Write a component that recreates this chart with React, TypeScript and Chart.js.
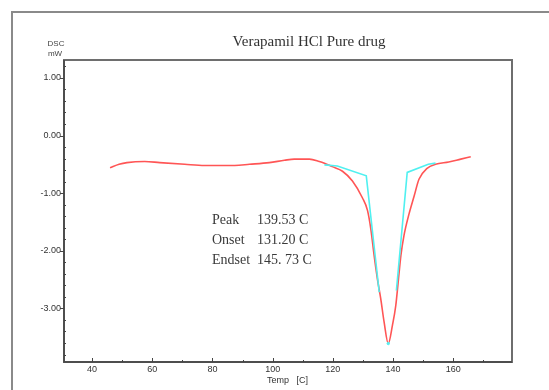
import React, { useEffect, useRef } from "react";
import { Chart, registerables } from "chart.js";

Chart.register(...registerables);

// DSC curve (red)
const tempC = [46.0, 49.0, 51.6, 57.5, 62.5, 70.8, 77.4, 87.4, 92.3, 98.9, 103.9, 107.2, 112.2, 115.5, 117.2, 119.8, 123.2, 126.5, 129.8, 131.5, 132.6, 133.7, 134.8, 135.9, 137.0, 138.4, 139.8, 140.9, 141.8, 142.6, 143.6, 145.3, 147.0, 148.6, 151.3, 154.1, 158.5, 162.5, 165.8];
const dscMw = [-0.56, -0.5, -0.47, -0.45, -0.47, -0.5, -0.52, -0.52, -0.5, -0.47, -0.43, -0.41, -0.41, -0.45, -0.48, -0.54, -0.62, -0.79, -1.08, -1.3, -1.62, -2.08, -2.49, -2.83, -3.23, -3.61, -3.29, -2.95, -2.49, -2.08, -1.74, -1.36, -1.05, -0.76, -0.57, -0.5, -0.46, -0.41, -0.37];

// Onset tangent construction (cyan)
const onsetT = [117.2, 121.5, 131.1, 135.4];
const onsetV = [-0.51, -0.53, -0.7, -2.72];
// Endset tangent construction (cyan)
const endsetT = [141.1, 144.7, 151.7, 154.1];
const endsetV = [-2.69, -0.64, -0.5, -0.48];
// Peak marker
const peakT = [138.4];
const peakV = [-3.61];

const xTicks = [40, 60, 80, 100, 120, 140, 160];
const xMinor = [50, 70, 90, 110, 130, 150, 170];
const yTicks = [-3, -2, -1, 0, 1];
const yMinorStep = 0.2;

const titleText = "Verapamil HCl Pure drug";
const yUnitTop = "DSC";
const yUnitBottom = "mW";
const xTitle = "Temp   [C]";
const annLabels = ["Peak", "Onset", "Endset"];
const annValues = ["139.53 C", "131.20 C", "145. 73 C"];

const toPts = (xs: number[], ys: number[]) => xs.map((x, i) => ({ x, y: ys[i] }));

export default function App() {
  const ref = useRef<HTMLCanvasElement | null>(null);
  useEffect(() => {
    document.body.style.margin = "0";
    const canvas = ref.current!;
    const decor = {
      id: "decor",
      afterDraw(chart: any) {
        const ctx = chart.ctx as CanvasRenderingContext2D;
        const a = chart.chartArea;
        const xs = chart.scales.x;
        const ys = chart.scales.y;
        ctx.save();
        // outer frame
        ctx.strokeStyle = "#8a8a8a";
        ctx.lineWidth = 2;
        ctx.beginPath();
        ctx.moveTo(12, 392);
        ctx.lineTo(12, 12);
        ctx.lineTo(560, 12);
        ctx.stroke();
        // plot frame
        ctx.strokeStyle = "#6e6e6e";
        ctx.lineWidth = 2;
        ctx.strokeRect(a.left, a.top, a.right - a.left, a.bottom - a.top);
        ctx.strokeStyle = "#444";
        ctx.lineWidth = 1.5;
        ctx.beginPath();
        ctx.moveTo(a.left, a.top);
        ctx.lineTo(a.left, a.bottom);
        ctx.lineTo(a.right, a.bottom);
        ctx.stroke();
        // ticks
        ctx.lineWidth = 1;
        ctx.strokeStyle = "#444";
        ctx.beginPath();
        for (const v of yTicks) {
          const py = Math.round(ys.getPixelForValue(v)) + 0.5;
          ctx.moveTo(a.left - 4, py);
          ctx.lineTo(a.left, py);
        }
        for (let v = -3.8; v <= 1.21; v += yMinorStep) {
          const r = Math.round(v * 10) / 10;
          if (Math.abs(r - Math.round(r)) < 1e-6) continue;
          const py = Math.round(ys.getPixelForValue(r)) + 0.5;
          ctx.moveTo(a.left, py);
          ctx.lineTo(a.left + 2, py);
        }
        for (const v of xTicks) {
          const px = Math.round(xs.getPixelForValue(v)) + 0.5;
          ctx.moveTo(px, a.bottom);
          ctx.lineTo(px, a.bottom - 4);
        }
        for (const v of xMinor) {
          const px = Math.round(xs.getPixelForValue(v)) + 0.5;
          ctx.moveTo(px, a.bottom);
          ctx.lineTo(px, a.bottom - 2);
        }
        ctx.stroke();
        // title
        ctx.fillStyle = "#333";
        ctx.font = "15px 'Liberation Serif'";
        ctx.textAlign = "center";
        ctx.textBaseline = "alphabetic";
        ctx.fillText(titleText, 309, 46);
        // unit labels
        ctx.font = "8px 'Liberation Sans'";
        ctx.fillStyle = "#444";
        ctx.fillText(yUnitTop, 56, 46);
        ctx.fillText(yUnitBottom, 55, 56);
        // x title
        ctx.font = "9px 'Liberation Sans'";
        ctx.fillStyle = "#333";
        ctx.textAlign = "left";
        ctx.fillText(xTitle, 267, 383);
        // annotations
        ctx.font = "14px 'Liberation Serif'";
        ctx.fillStyle = "#3a3a3a";
        annLabels.forEach((t, i) => {
          const by = 224 + i * 20;
          ctx.fillText(t, 212, by);
          ctx.fillText(annValues[i], 257, by);
        });
        ctx.restore();
      },
    };
    const chart = new Chart(canvas, {
      type: "line",
      data: {
        datasets: [
          {
            data: toPts(tempC, dscMw),
            borderColor: "rgb(255,85,85)",
            borderWidth: 1.6,
            pointRadius: 0,
            cubicInterpolationMode: "monotone",
            order: 2,
          },
          {
            data: toPts(onsetT, onsetV),
            borderColor: "rgb(80,240,240)",
            borderWidth: 1.6,
            pointRadius: 0,
            tension: 0,
            order: 1,
          },
          {
            data: toPts(endsetT, endsetV),
            borderColor: "rgb(80,240,240)",
            borderWidth: 1.6,
            pointRadius: 0,
            tension: 0,
            order: 1,
          },
          {
            data: toPts(peakT, peakV),
            borderColor: "rgb(80,240,240)",
            backgroundColor: "rgb(80,240,240)",
            pointRadius: 1.2,
            showLine: false,
            order: 0,
          },
        ],
      },
      options: {
        responsive: false,
        animation: false,
        devicePixelRatio: 1,
        layout: { padding: { left: 0, top: 60, right: 37, bottom: 0 } },
        plugins: { legend: { display: false }, tooltip: { enabled: false }, title: { display: false } },
        scales: {
          x: {
            type: "linear",
            min: 30.7,
            max: 179.5,
            afterFit: (s: any) => { s.height = 28; },
            afterBuildTicks: (s: any) => { s.ticks = xTicks.map((v) => ({ value: v })); },
            grid: { display: false, drawTicks: false },
            border: { display: false },
            ticks: { color: "#333", font: { family: "'Liberation Sans'", size: 9 }, padding: 2, maxRotation: 0, autoSkip: false },
          },
          y: {
            type: "linear",
            min: -3.93,
            max: 1.31,
            afterFit: (s: any) => { s.width = 64; },
            afterBuildTicks: (s: any) => { s.ticks = yTicks.map((v) => ({ value: v })); },
            grid: { display: false, drawTicks: false },
            border: { display: false },
            ticks: {
              color: "#333",
              font: { family: "'Liberation Sans'", size: 9 },
              padding: 3,
              autoSkip: false,
              callback: (v: any) => Number(v).toFixed(2),
            },
          },
        },
      },
      plugins: [decor],
    });
    return () => chart.destroy();
  }, []);
  return <canvas ref={ref} width={549} height={390} style={{ display: "block" }} />;
}
